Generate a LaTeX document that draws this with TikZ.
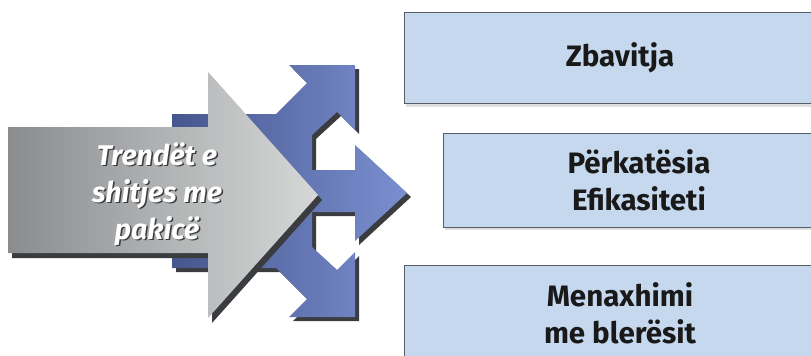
\documentclass[tikz,border=0pt]{standalone}
\usepackage{fontspec}
\setsansfont{Fira Sans}
\usepackage{xcolor}
\usetikzlibrary{positioning, shadows}

\definecolor{boxfill}{HTML}{C6D8EE}
\definecolor{boxline}{HTML}{585C66}
\definecolor{bluedark}{HTML}{46568E}
\definecolor{bluelight}{HTML}{7B8FD0}
\definecolor{darkshade}{HTML}{3A3C3F}
\definecolor{greydark}{HTML}{8A8C8E}
\definecolor{greymid}{HTML}{C6C8C8}
\definecolor{greylight}{HTML}{D6D8D8}

% outline of the three-way arrow and of the big arrow, in pixels
\newcommand{\forkoutline}{(172,114) -- (276,114) -- (307,83) -- (289,65) -- (355,65)
  -- (355,130) -- (337,112) -- (312,135) -- (312,170) -- (355,170) -- (355,145)
  -- (407,193) -- (355,241) -- (355,212) -- (312,212) -- (312,247) -- (337,270)
  -- (355,252) -- (355,317) -- (289,317) -- (307,299) -- (276,268) -- (172,268) -- cycle}
\newcommand{\bigarrow}{(8,127) -- (208,127) -- (208,72) -- (318,195) -- (208,318)
  -- (208,253) -- (8,253) -- cycle}

\begin{document}
\begin{tikzpicture}[x=0.02cm, y=-0.02cm, node distance=2cm, on grid,
    topic/.style={rectangle, draw=boxline, line width=0.45pt, fill=boxfill,
      drop shadow={shadow xshift=1pt, shadow yshift=-2pt, opacity=0.25},
      text=black!90, align=center, font=\sffamily\bfseries\fontsize{16.8}{21}\selectfont},
    trendtext/.style={align=center, inner sep=0pt,
      font=\sffamily\bfseries\itshape\fontsize{16.2}{21}\selectfont}]
        \clip (0,0) rectangle (811,355);
        \fill[white] (0,0) rectangle (811,355);

        % boxes on the right
        \node[topic, minimum width=8.64cm, minimum height=1.82cm] (zbav) at (620,57.5) {Zbavitja};
        \node[topic, minimum width=7.84cm, minimum height=1.88cm] (perk)
            [below right=2.45cm and 0.38cm of zbav] {Përkatësia\\Efikasiteti};
        \node[topic, minimum width=8.64cm, minimum height=1.92cm] (menax)
            [below=5.11cm of zbav] {Menaxhimi\\me blerësit};

        % three-way arrow
        \fill[darkshade, shift={(4,4)}] \forkoutline;
        \shade[left color=bluedark, right color=bluelight] \forkoutline;

        % big grey arrow
        \fill[darkshade, shift={(4,5)}] \bigarrow;
        \shade[left color=greydark, middle color=greymid, right color=greylight] \bigarrow;

        \node[trendtext, text=darkshade] (trendsh) at (158.5,195.5) {Trendët e\\shitjes me\\pakicë};
        \node[trendtext, text=white] (trend) at (157,194) {Trendët e\\shitjes me\\pakicë};
\end{tikzpicture}
\end{document}
